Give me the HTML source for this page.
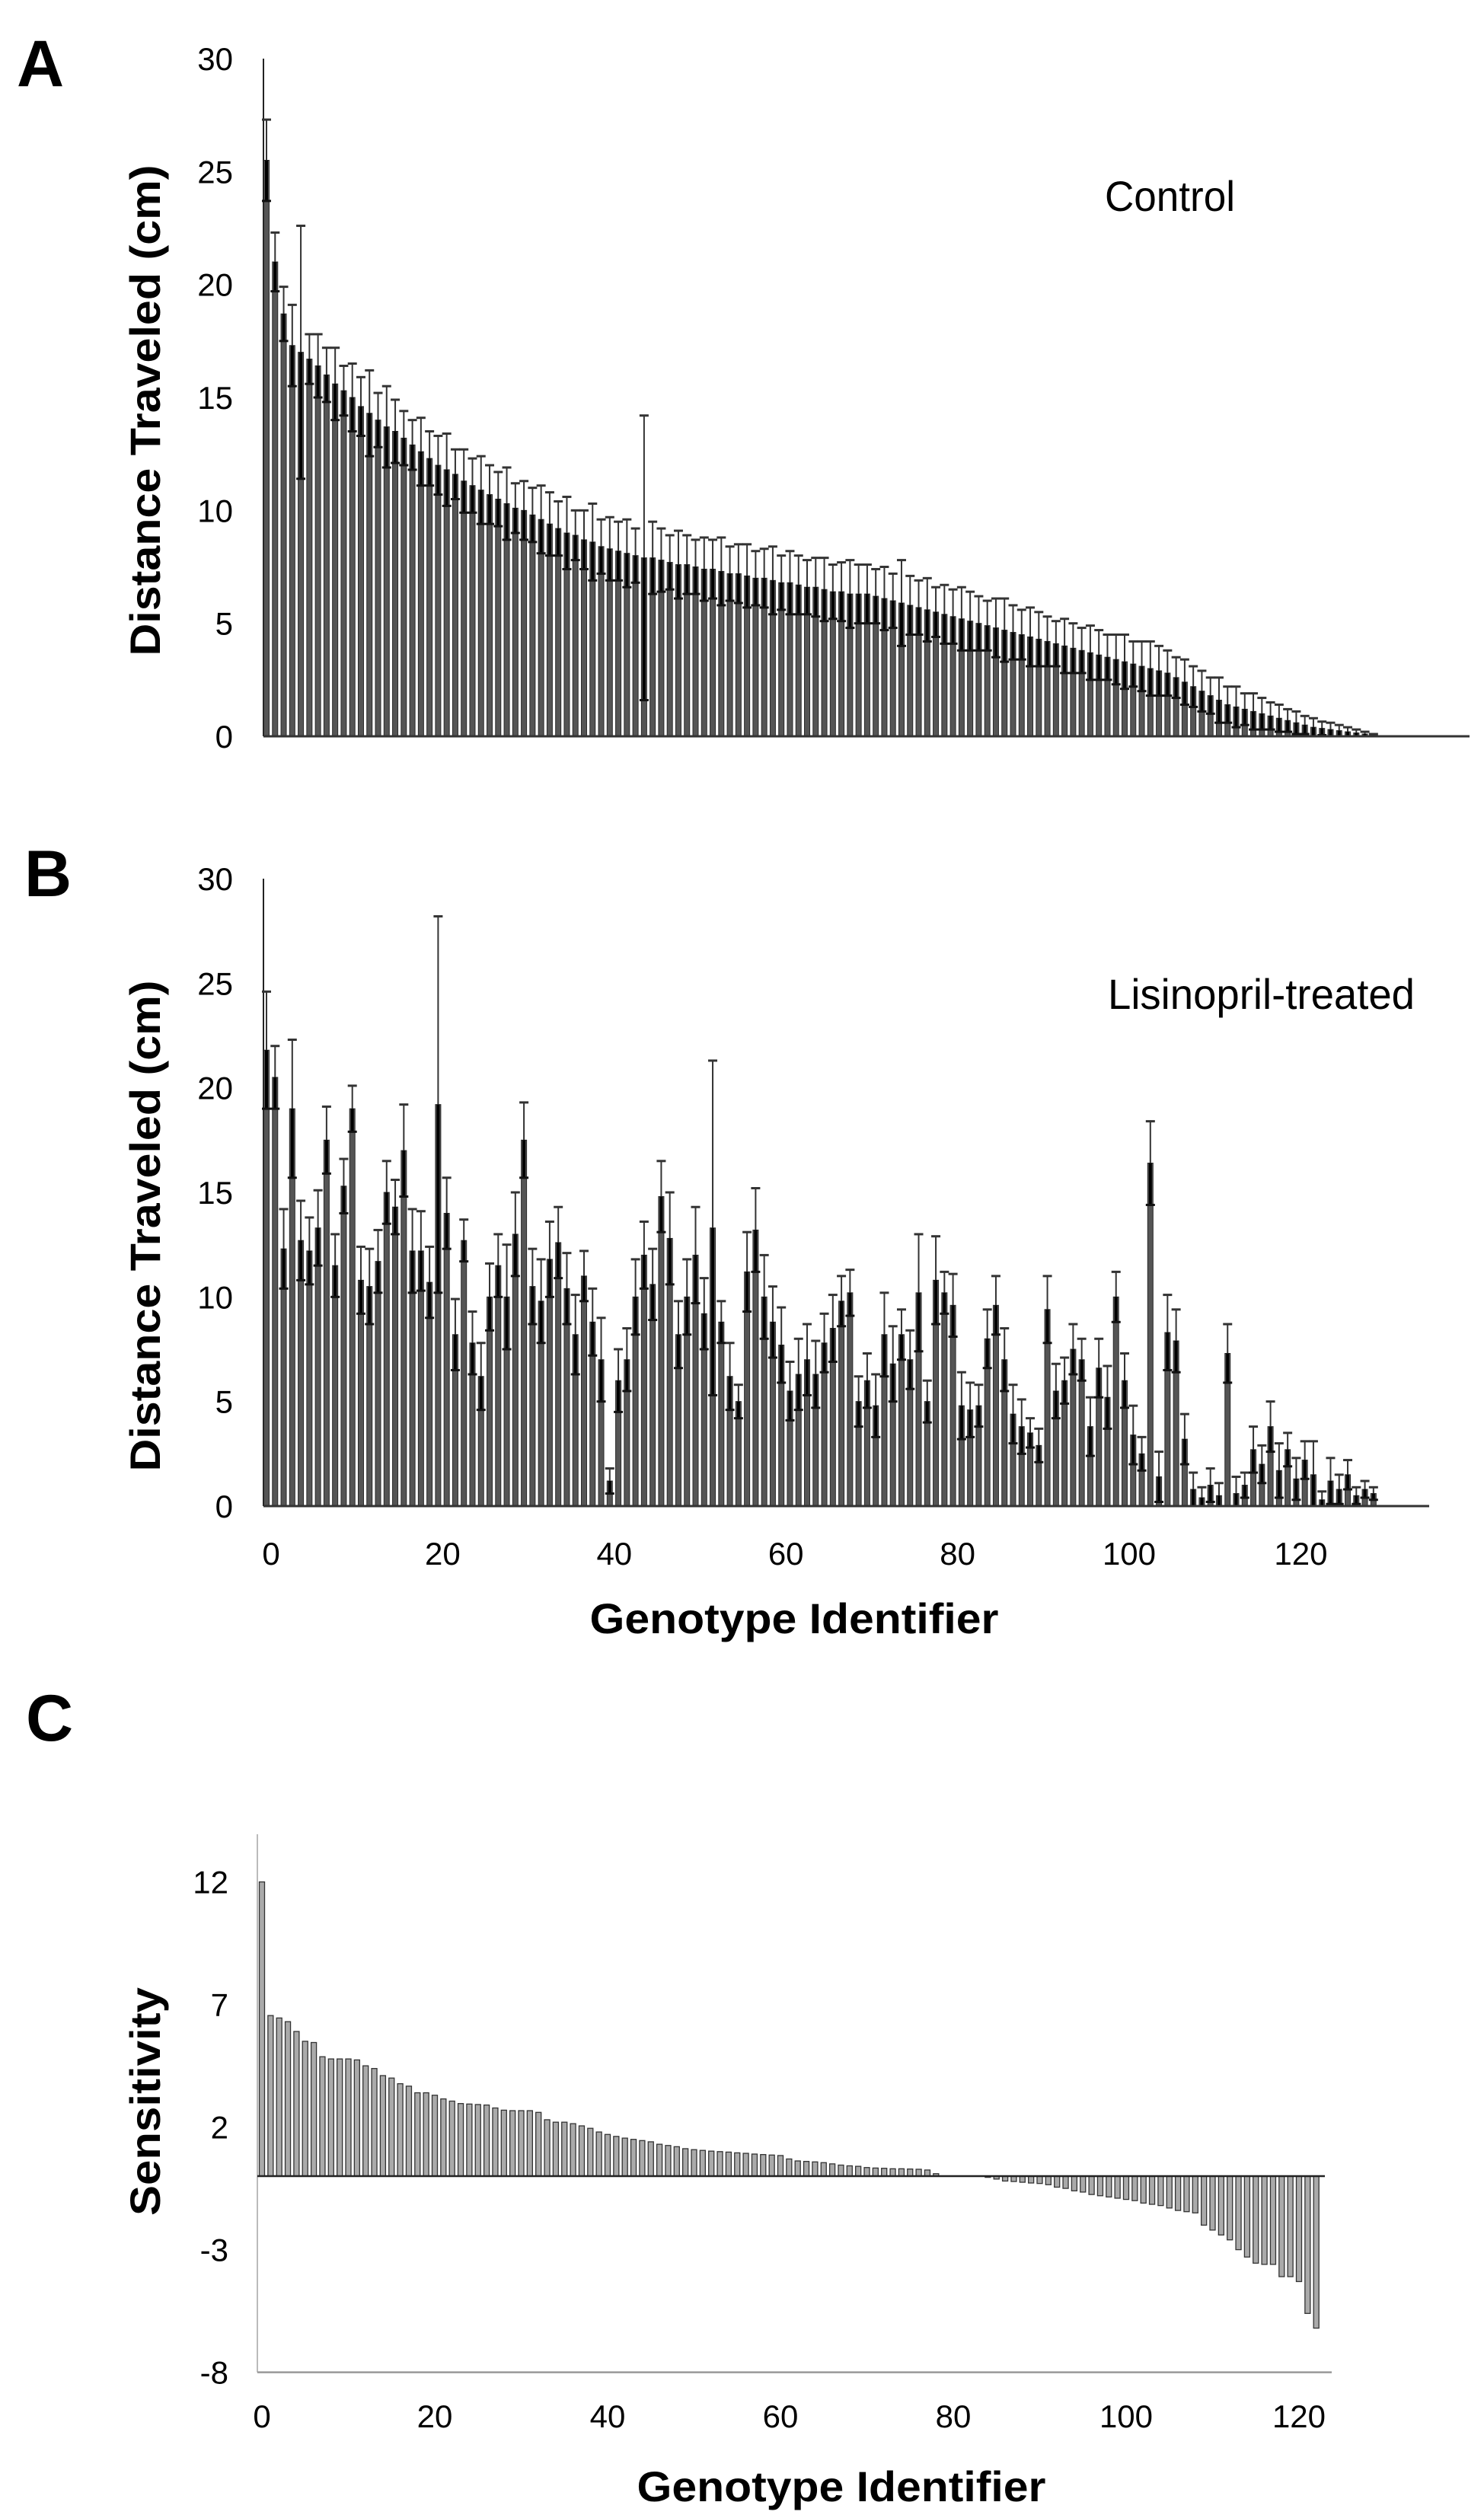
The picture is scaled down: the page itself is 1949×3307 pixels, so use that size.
<!DOCTYPE html>
<html><head><meta charset="utf-8"><style>
html,body{margin:0;padding:0;background:#fff;}
svg{display:block;font-family:"Liberation Sans",Arial,sans-serif;}
</style></head><body>
<svg id="fig" width="1949" height="3307" viewBox="0 0 1949 3307" xmlns="http://www.w3.org/2000/svg">
<rect width="1949" height="3307" fill="#fff"/>
<text x="22" y="113" font-size="86" font-weight="bold">A</text>
<text x="32" y="1177" font-size="86" font-weight="bold">B</text>
<text x="34" y="2286" font-size="86" font-weight="bold">C</text>
<text x="1451" y="277" font-size="56" textLength="171" lengthAdjust="spacingAndGlyphs">Control</text>
<text x="1455" y="1325" font-size="56" textLength="403" lengthAdjust="spacingAndGlyphs">Lisinopril-treated</text>
<text transform="translate(210,539) rotate(-90)" text-anchor="middle" font-size="56" font-weight="bold" textLength="645" lengthAdjust="spacingAndGlyphs">Distance Traveled (cm)</text>
<text transform="translate(210,1610) rotate(-90)" text-anchor="middle" font-size="56" font-weight="bold" textLength="645" lengthAdjust="spacingAndGlyphs">Distance Traveled (cm)</text>
<text transform="translate(210,2760) rotate(-90)" text-anchor="middle" font-size="56" font-weight="bold" textLength="300" lengthAdjust="spacingAndGlyphs">Sensitivity</text>
<text x="1043" y="2145" text-anchor="middle" font-size="56" font-weight="bold" textLength="537" lengthAdjust="spacingAndGlyphs">Genotype Identifier</text>
<text x="1105" y="3285" text-anchor="middle" font-size="56" font-weight="bold" textLength="537" lengthAdjust="spacingAndGlyphs">Genotype Identifier</text>
<g id="ga"></g>
<g id="gb"></g>
<g id="gc"></g>
</svg>
<script>
const controlMeans=[25.5,21.0,18.7,17.3,17.0,16.7,16.4,16.0,15.6,15.3,15.0,14.6,14.3,14.0,13.7,13.5,13.2,12.9,12.6,12.3,12.0,11.8,11.6,11.3,11.1,10.9,10.7,10.5,10.3,10.1,10.0,9.8,9.6,9.4,9.2,9.0,8.9,8.7,8.6,8.4,8.3,8.2,8.1,8.0,7.9,7.9,7.8,7.7,7.6,7.6,7.5,7.4,7.4,7.3,7.2,7.2,7.1,7.0,7.0,6.9,6.8,6.8,6.7,6.6,6.6,6.5,6.4,6.4,6.3,6.3,6.3,6.2,6.1,6.0,5.9,5.8,5.7,5.6,5.5,5.4,5.3,5.2,5.1,5.0,4.9,4.8,4.7,4.6,4.5,4.4,4.3,4.2,4.1,4.0,3.9,3.8,3.7,3.6,3.5,3.4,3.3,3.2,3.1,3.0,2.9,2.8,2.6,2.4,2.2,2.0,1.8,1.6,1.4,1.3,1.2,1.1,1.0,0.9,0.8,0.7,0.6,0.5,0.4,0.35,0.3,0.25,0.2,0.15,0.1,0.05];
const controlErr=[1.8,1.3,1.2,1.8,5.6,1.1,1.4,1.2,1.6,1.1,1.5,1.3,1.9,1.2,1.8,1.4,1.2,1.1,1.5,1.2,1.3,1.6,1.1,1.4,1.2,1.5,1.3,1.2,1.6,1.1,1.3,1.2,1.5,1.4,1.2,1.6,1.1,1.3,1.7,1.2,1.4,1.3,1.5,1.2,6.3,1.6,1.4,1.2,1.5,1.3,1.2,1.4,1.3,1.5,1.2,1.3,1.4,1.2,1.3,1.5,1.2,1.4,1.3,1.2,1.3,1.4,1.2,1.3,1.5,1.3,1.3,1.2,1.4,1.2,1.9,1.3,1.2,1.4,1.1,1.3,1.2,1.4,1.3,1.2,1.1,1.3,1.4,1.2,1.1,1.3,1.2,1.1,1.0,1.2,1.1,1.0,1.2,1.1,1.0,1.1,1.2,1.0,1.1,1.2,1.1,1.0,0.9,1.0,0.9,0.9,0.8,1.0,0.8,0.9,0.7,0.8,0.7,0.6,0.6,0.5,0.5,0.4,0.4,0.3,0.3,0.25,0.2,0.15,0.1,0.05];
const lisMeans=[21.8,20.5,12.3,19.0,12.7,12.2,13.3,17.5,11.5,15.3,19.0,10.8,10.5,11.7,15.0,14.3,17.0,12.2,12.2,10.7,19.2,14.0,8.2,12.7,7.8,6.2,10.0,11.5,10.0,13.0,17.5,10.5,9.8,11.8,12.6,10.4,8.2,11.0,8.8,7.0,1.2,6.0,7.0,10.0,12.0,10.6,14.8,12.8,8.2,10.0,12.0,9.2,13.3,8.8,6.2,5.0,11.2,13.2,10.0,8.8,7.7,5.5,6.3,7.0,6.3,7.8,8.5,9.8,10.2,5.0,6.0,4.8,8.2,6.8,8.2,7.0,10.2,5.0,10.8,10.2,9.6,4.8,4.6,4.8,8.0,9.6,7.0,4.4,3.8,3.5,2.9,9.4,5.5,6.0,7.5,7.0,3.8,6.6,5.2,10.0,6.0,3.4,2.5,16.4,1.4,8.3,7.9,3.2,0.8,0.4,1.0,0.5,7.3,0.6,1.0,2.7,2.0,3.8,1.7,2.7,1.3,2.2,1.5,0.3,1.2,0.8,1.5,0.5,0.8,0.6];
const lisErr=[2.8,1.5,1.9,3.3,1.9,1.6,1.8,1.6,1.5,1.3,1.1,1.6,1.8,1.5,1.5,1.3,2.2,2.0,1.9,1.7,9.0,1.7,1.7,1.0,1.5,1.6,1.6,1.5,2.5,2.0,1.8,1.8,2.0,1.8,1.7,1.7,1.9,1.2,1.6,2.0,0.6,1.5,1.5,1.8,1.6,1.7,1.7,2.2,1.6,1.8,2.3,1.7,8.0,1.0,1.6,0.8,1.9,2.0,2.0,1.7,1.8,1.4,1.7,1.7,1.6,1.4,1.6,1.2,1.1,1.2,1.3,1.5,2.0,1.8,1.2,1.4,2.8,1.0,2.1,1.0,1.5,1.6,1.3,1.0,1.4,1.4,1.5,1.4,1.3,0.7,0.8,1.6,1.3,1.1,1.2,1.0,1.4,1.4,1.5,1.2,1.3,1.4,0.8,2.0,1.2,1.8,1.5,1.2,0.8,0.5,0.8,0.6,1.4,0.8,0.6,1.1,0.9,1.2,1.3,0.8,1.0,0.9,1.6,0.4,1.1,0.7,0.7,0.4,0.4,0.3];
const sensValues=[12.0,6.55,6.45,6.3,5.9,5.5,5.45,4.87,4.78,4.78,4.78,4.74,4.5,4.39,4.1,4.0,3.77,3.67,3.4,3.4,3.3,3.15,3.06,2.96,2.94,2.92,2.9,2.78,2.69,2.67,2.67,2.67,2.6,2.3,2.2,2.2,2.14,2.05,1.95,1.8,1.7,1.62,1.55,1.5,1.45,1.4,1.3,1.25,1.2,1.12,1.08,1.05,1.02,1.0,0.98,0.95,0.93,0.9,0.88,0.86,0.84,0.7,0.62,0.6,0.58,0.55,0.5,0.45,0.42,0.4,0.35,0.33,0.32,0.3,0.3,0.29,0.28,0.25,0.1,0,0,0,0,0,-0.05,-0.12,-0.2,-0.22,-0.25,-0.28,-0.3,-0.35,-0.45,-0.5,-0.6,-0.65,-0.75,-0.8,-0.85,-0.9,-0.95,-1.0,-1.1,-1.15,-1.2,-1.3,-1.4,-1.45,-1.5,-2.0,-2.2,-2.4,-2.6,-3.0,-3.3,-3.55,-3.6,-3.6,-4.1,-4.1,-4.3,-5.6,-6.2];
const distTicks=[0,5,10,15,20,25,30];
const sensTicks=[-8,-3,2,7,12];
const xTicks=[0,20,40,60,80,100,120];

const NS="http://www.w3.org/2000/svg";
function mk(parent,tag,attrs,text){const e=document.createElementNS(NS,tag);for(const k in attrs)e.setAttribute(k,attrs[k]);if(text!==undefined)e.textContent=text;parent.appendChild(e);return e;}

function drawDist(g,means,errs,y0,y30,axisEnd,showX,prefix){
  const ax=346, bx0=350, step=11.27;
  const y=v=>y0-(v/30)*(y0-y30);
  const x=i=>bx0+i*step;
  const yAxis=mk(g,'line',{x1:ax,y1:y30,x2:ax,y2:y0,stroke:'#222','stroke-width':2});
  
  
  distTicks.forEach(t=>{
    const tl=mk(g,'text',{x:306,y:y(t)+15,'text-anchor':'end','font-size':42},String(t));
    
    
  });
  means.forEach((m,i)=>{
    const b=mk(g,'rect',{x:x(i)-3.5,y:y(m),width:7,height:y0-y(m),fill:'#555',stroke:'#2a2a2a','stroke-width':1});
    
    
  });
  means.forEach((m,i)=>{
    const e=errs[i], top=y(m+e), bot=y(Math.max(0,m-e));
    const el=mk(g,'g',{});
    
    
    mk(el,'line',{x1:x(i),y1:top,x2:x(i),y2:y(m),stroke:'#333','stroke-width':2});
    mk(el,'line',{x1:x(i),y1:y(m),x2:x(i),y2:bot,stroke:'#000','stroke-width':4});
    mk(el,'line',{x1:x(i)-6,y1:top,x2:x(i)+6,y2:top,stroke:'#333','stroke-width':3});
    mk(el,'line',{x1:x(i)-6,y1:bot,x2:x(i)+6,y2:bot,stroke:'#111','stroke-width':3});
  });
  const xAxis=mk(g,'line',{x1:ax,y1:y0,x2:axisEnd,y2:y0,stroke:'#333','stroke-width':3});
  
  
  if(showX){
    xTicks.forEach(t=>{
      const tl=mk(g,'text',{x:x(t)+6,y:2055,'text-anchor':'middle','font-size':42},String(t));
      
      
    });
  }
}
drawDist(document.getElementById('ga'),controlMeans,controlErr,967,77,1930,false,'control');
drawDist(document.getElementById('gb'),lisMeans,lisErr,1978,1154,1877,true,'lisinopril');

(function(){
  const g=document.getElementById('gc');
  const ax=338, bx0=344, step=11.35, y0=2858, per=161/5;
  const y=v=>y0-v*per;
  const x=i=>bx0+i*step;
  const yAxis=mk(g,'line',{x1:ax,y1:2409,x2:ax,y2:y(-8),stroke:'#bbb','stroke-width':2});
  
  
  sensTicks.forEach(t=>{
    const tl=mk(g,'text',{x:300,y:y(t)+15,'text-anchor':'end','font-size':42},String(t));
    
    
  });
  const bottom=mk(g,'line',{x1:ax,y1:y(-8),x2:1749,y2:y(-8),stroke:'#999','stroke-width':2.5});
  
  
  sensValues.forEach((v,i)=>{
    const top=Math.min(y(v),y0), h=Math.abs(y(v)-y0);
    const b=mk(g,'rect',{x:x(i)-3.5,y:top,width:7,height:h,fill:'#aaa',stroke:'#333','stroke-width':1.3});
    
    
  });
  const zl=mk(g,'line',{x1:ax,y1:y0,x2:1740,y2:y0,stroke:'#222','stroke-width':2.5});
  
  
  xTicks.forEach(t=>{
    const tl=mk(g,'text',{x:x(t),y:3188,'text-anchor':'middle','font-size':42},String(t));
    
    
  });
})();
</script>
</body></html>
